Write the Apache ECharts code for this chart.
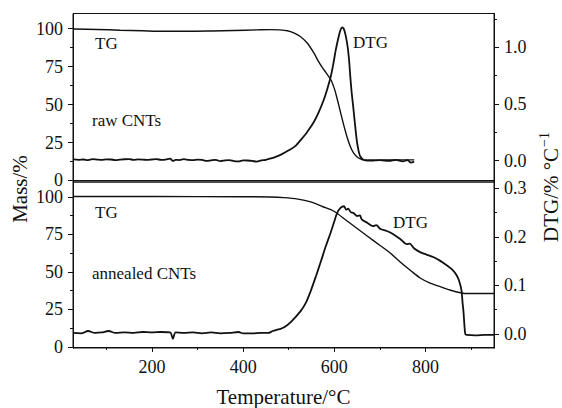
<!DOCTYPE html>
<html>
<head>
<meta charset="utf-8">
<script src="https://cdn.jsdelivr.net/npm/echarts@6/dist/echarts.min.js"></script>
<style>
  html, body { margin: 0; padding: 0; background: #fff; }
  #chart { width: 562px; height: 408px; }
</style>
</head>
<body>
<div id="chart"></div>
<script>
// raw CNTs (top panel): temperature / mass %
var rawTG = [
    [27, 99.8], [80, 99.5], [130, 99.0], [180, 98.6], [230, 98.3], [280, 98.3],
    [330, 98.5], [380, 98.8], [430, 99.2], [460, 99.4], [480, 99.2], [497, 98.6],
    [511, 97.2], [526, 94.7], [541, 90.4], [555, 84.0], [566, 78.0], [577, 73.0],
    [592, 66.5], [600, 60.5], [606, 54], [613, 45.5], [621, 36.0], [628, 28.5],
    [635, 22.4], [642, 18.2], [650, 15.5], [657, 14.2], [664, 13.6], [680, 13.4],
    [720, 13.5], [775, 13.6]
];
// raw CNTs: temperature / DTG %/°C
var rawDTG = [
    [27, 0.010], [40, 0.006], [50, 0.009], [60, 0.004], [70, 0.012], [80, 0.008],
    [90, 0.005], [100, 0.010], [110, 0.009], [120, 0.004], [130, 0.008], [140, 0.011],
    [150, 0.012], [160, 0.006], [170, 0.010], [180, 0.008], [190, 0.005], [200, 0.009],
    [210, 0.012], [220, 0.006], [230, 0.008], [240, 0.016], [246, -0.004], [252, 0.006],
    [260, 0.004], [270, 0.012], [280, 0.006], [290, 0.003], [300, 0.008], [310, 0.006],
    [320, -0.004], [330, 0.002], [340, 0.006], [350, -0.006], [360, 0.002], [370, 0.004],
    [380, -0.006], [390, -0.008], [400, 0.002], [410, 0.000], [420, -0.004], [430, -0.010],
    [440, 0.002], [450, 0.006], [460, 0.018], [470, 0.030], [482, 0.050], [500, 0.090],
    [515, 0.130], [526, 0.180], [540, 0.250], [555, 0.340], [566, 0.430], [577, 0.540],
    [585, 0.640], [592, 0.740], [598, 0.860], [603, 0.976], [608, 1.070], [613, 1.150],
    [617, 1.176], [622, 1.150], [628, 1.035], [632, 0.900], [635, 0.740], [638, 0.600],
    [642, 0.450], [646, 0.290], [650, 0.153], [654, 0.070], [657, 0.035], [662, 0.012],
    [668, 0.002], [680, 0.000], [700, 0.004], [720, -0.004], [735, 0.006], [750, -0.008],
    [760, 0.004], [768, -0.018], [775, -0.010]
];
// annealed CNTs (bottom panel): temperature / mass %
var annTG = [
    [27, 100.3], [200, 100.3], [400, 100.2], [460, 100.0], [489, 99.6], [520, 98.6],
    [548, 96.7], [575, 93.5], [599, 90.5], [628, 84.0], [650, 79.0], [672, 74.0],
    [701, 67.5], [723, 62.5], [745, 56.5], [767, 51.0], [789, 45.8], [810, 42.5],
    [832, 40.2], [855, 37.8], [879, 36.0], [890, 35.6], [950, 35.6]
];
// annealed CNTs: temperature / DTG %/°C
var annDTG = [
    [27, 0.002], [45, 0.001], [60, 0.006], [75, 0.002], [90, 0.003], [105, 0.006],
    [120, 0.002], [140, 0.003], [160, 0.002], [180, 0.004], [200, 0.003], [220, 0.004],
    [240, 0.003], [246, -0.010], [252, 0.003], [270, 0.002], [290, 0.003], [310, 0.001],
    [330, 0.003], [350, 0.001], [370, 0.002], [390, 0.004], [400, 0.001], [420, 0.001],
    [440, 0.002], [455, 0.002], [465, 0.006], [480, 0.010], [489, 0.013], [505, 0.025],
    [526, 0.047], [538, 0.065], [548, 0.088], [560, 0.120], [570, 0.148], [581, 0.180],
    [592, 0.209], [600, 0.232], [606, 0.249], [614, 0.260], [621, 0.263], [626, 0.256],
    [630, 0.258], [636, 0.251], [642, 0.249], [650, 0.243], [656, 0.244], [660, 0.236],
    [672, 0.229], [685, 0.222], [692, 0.224], [701, 0.216], [715, 0.212], [730, 0.205],
    [745, 0.195], [759, 0.185], [765, 0.186], [775, 0.176], [789, 0.168], [803, 0.163],
    [818, 0.158], [833, 0.150], [847, 0.141], [858, 0.133], [868, 0.121], [874, 0.108],
    [879, 0.088], [881, 0.065], [883, 0.047], [885, 0.020], [887, 0.000], [890, -0.002],
    [910, -0.003], [930, -0.002], [950, -0.002]
];

var tempLabels = [200, 400, 600, 800];
var tempMinor = [100, 300, 500, 700, 900];
var massLabels = [0, 25, 50, 75, 100];
var massMinor = [12.5, 37.5, 62.5, 87.5];
var rawDtgLabels = [0, 0.5, 1.0];
var rawDtgMinor = [0.25, 0.75, 1.25];
var annDtgLabels = [0, 0.1, 0.2, 0.3];
var annDtgMinor = [0.05, 0.15, 0.25];

var FONT = 'Liberation Serif';
var INK = '#111';

function yAx(grid, pos, min, max, labels, minor, digits) {
    var base = {
        type: 'value', gridIndex: grid, position: pos, min: min, max: max,
        splitLine: { show: false },
        axisLine: { show: true, lineStyle: { color: INK, width: 1 } }
    };
    var major = Object.assign({}, base, {
        axisTick: { show: true, inside: false, length: 5, customValues: labels, lineStyle: { color: INK } },
        axisLabel: {
            show: true, customValues: labels, margin: 10, color: INK,
            fontFamily: FONT, fontSize: 18,
            formatter: function (v) { return digits ? v.toFixed(digits) : String(Math.round(v)); }
        }
    });
    var mnr = Object.assign({}, base, {
        axisTick: { show: true, inside: false, length: 3, customValues: minor, lineStyle: { color: INK } },
        axisLabel: { show: false }
    });
    return [major, mnr];
}

var yAxes = []
    .concat(yAx(0, 'left', -1, 110, massLabels, massMinor, 0))
    .concat(yAx(0, 'right', -0.19, 1.3, rawDtgLabels, rawDtgMinor, 1))
    .concat(yAx(1, 'left', -0.7, 110, massLabels, massMinor, 0))
    .concat(yAx(1, 'right', -0.029, 0.313, annDtgLabels, annDtgMinor, 1));

var xAxes = [
    {
        type: 'value', gridIndex: 0, position: 'bottom', min: 27, max: 950,
        splitLine: { show: false },
        axisLine: { show: true, lineStyle: { color: INK } },
        axisTick: { show: false }, axisLabel: { show: false }
    },
    {
        type: 'value', gridIndex: 1, position: 'bottom', min: 27, max: 950,
        splitLine: { show: false },
        axisLine: { show: true, lineStyle: { color: INK } },
        axisTick: { show: true, length: 5, customValues: tempLabels, lineStyle: { color: INK } },
        axisLabel: { show: true, customValues: tempLabels, margin: 10, color: INK, fontFamily: FONT, fontSize: 18 },
        name: 'Temperature/°C', nameLocation: 'middle', nameGap: 38,
        nameTextStyle: { color: INK, fontFamily: FONT, fontSize: 21 }
    },
    {
        type: 'value', gridIndex: 1, position: 'bottom', min: 27, max: 950,
        splitLine: { show: false },
        axisLine: { show: false },
        axisTick: { show: true, length: 3, customValues: tempMinor, lineStyle: { color: INK } },
        axisLabel: { show: false }
    }
];

function line(data, xi, yi, w) {
    return {
        type: 'line', data: data, xAxisIndex: xi, yAxisIndex: yi,
        showSymbol: false, symbol: 'none', smooth: 0.3,
        lineStyle: { color: INK, width: w }
    };
}

function label(text, x, y, size) {
    return {
        type: 'text', x: x, y: y,
        style: { text: text, fill: INK, font: size + 'px "' + FONT + '"', verticalAlign: 'middle', align: 'left' }
    };
}

var option = {
    animation: false,
    grid: [
        { left: 73, right: 68, top: 13.5, height: 168.5, show: true, borderColor: INK, borderWidth: 1, backgroundColor: 'transparent' },
        { left: 73, right: 68, top: 182, height: 169, show: true, borderColor: INK, borderWidth: 1, backgroundColor: 'transparent' }
    ],
    xAxis: xAxes,
    yAxis: yAxes,
    series: [
        line(rawTG, 0, 0, 1.4),
        line(rawDTG, 0, 2, 1.8),
        line(annTG, 1, 4, 1.4),
        line(annDTG, 1, 6, 1.8)
    ],
    graphic: [
        label('TG', 95, 43, 17),
        label('raw CNTs', 92, 120, 17),
        label('DTG', 353, 42, 17),
        label('TG', 95, 212, 17),
        label('annealed CNTs', 92, 273, 17),
        label('DTG', 393, 222, 17),
        {
            type: 'text', x: 20, y: 189, rotation: Math.PI / 2,
            style: { text: 'Mass/%', fill: INK, font: '21px "' + FONT + '"', align: 'center', verticalAlign: 'middle' }
        },
        {
            type: 'text', x: 549, y: 187, rotation: Math.PI / 2,
            style: {
                text: '{m|DTG/% °C}{s|−1}', align: 'center', verticalAlign: 'middle',
                rich: {
                    m: { fill: INK, fontFamily: FONT, fontSize: 21, lineHeight: 24, verticalAlign: 'bottom' },
                    s: { fill: INK, fontFamily: FONT, fontSize: 14, lineHeight: 24, verticalAlign: 'top', padding: [0, 0, 0, 1] }
                }
            }
        }
    ]
};

var chart = echarts.init(document.getElementById('chart'), null, { renderer: 'svg' });
chart.setOption(option);
</script>
</body>
</html>
